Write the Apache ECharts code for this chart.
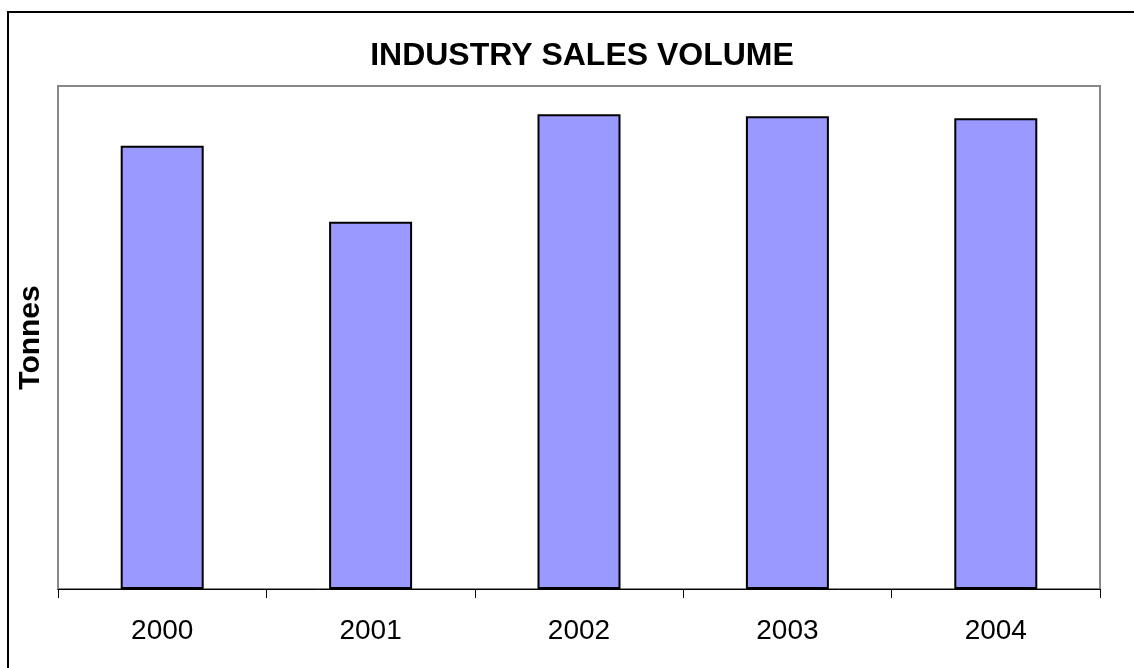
<!DOCTYPE html>
<html>
<head>
<meta charset="utf-8">
<script src="https://cdn.jsdelivr.net/npm/echarts@6/dist/echarts.min.js"></script>
<style>
  html, body { margin: 0; padding: 0; background: #fff; }
  #main { width: 1134px; height: 668px; }
</style>
</head>
<body>
<div id="main"></div>
<script>
var years = ['2000', '2001', '2002', '2003', '2004'];
var salesVolume = [88.1, 73.0, 94.4, 94.0, 93.6];
var yMax = 100;

var myChart = echarts.init(document.getElementById('main'));
var option = {
    animation: false,
    backgroundColor: '#fff',
    textStyle: { fontFamily: 'Liberation Sans, Arial, sans-serif' },
    title: {
        text: 'INDUSTRY SALES VOLUME',
        left: 577,
        top: 35,
        textAlign: 'center',
        textStyle: { fontSize: 32, fontWeight: 'bold', color: '#000' }
    },
    // outer frame
    graphic: [{
        type: 'rect',
        shape: { x: 8, y: 12, width: 1200, height: 700 },
        style: { fill: 'none', stroke: '#000', lineWidth: 2 },
        silent: true
    }],
    grid: {
        left: 58, right: 34, top: 86, bottom: 79,
        show: true,
        borderColor: '#888',
        borderWidth: 2,
        backgroundColor: '#fff'
    },
    xAxis: {
        type: 'category',
        data: years,
        boundaryGap: true,
        axisLine: { lineStyle: { color: '#000', width: 1 } },
        axisTick: { show: true, length: 9, inside: false, lineStyle: { color: '#000' } },
        axisLabel: { fontSize: 28, color: '#000', margin: 28 }
    },
    yAxis: {
        type: 'value',
        min: 0,
        max: yMax,
        name: 'Tonnes',
        nameLocation: 'middle',
        nameGap: 12,
        nameTextStyle: { fontSize: 30, fontWeight: 'bold', color: '#000' },
        axisLine: { show: false },
        axisTick: { show: false },
        axisLabel: { show: false },
        splitLine: { show: false }
    },
    series: [{
        type: 'bar',
        data: salesVolume,
        barWidth: 83,
        itemStyle: { color: '#9999FF', borderColor: '#000', borderWidth: 2 }
    }]
};
myChart.setOption(option);
</script>
</body>
</html>
